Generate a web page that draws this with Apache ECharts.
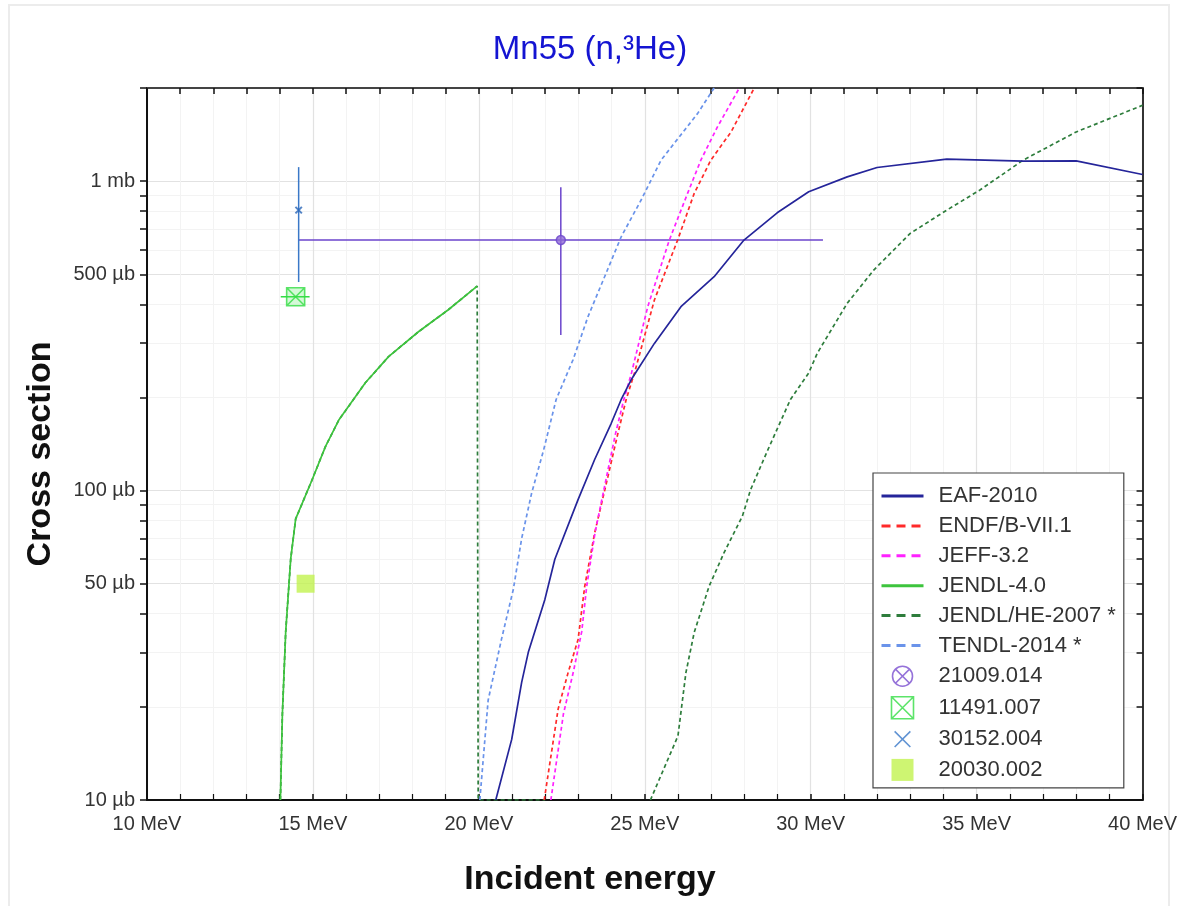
<!DOCTYPE html>
<html>
<head>
<meta charset="utf-8">
<title>Mn55 (n,3He)</title>
<script src="https://cdn.jsdelivr.net/npm/echarts@6/dist/echarts.min.js"></script>
<style>
    html, body { margin: 0; padding: 0; background: #fff; }
    #wrap { position: relative; width: 1180px; height: 906px; }
    #frame { position: absolute; left: 8px; top: 4px; width: 1162px; height: 910px; border: 2px solid #ececec; box-sizing: border-box; }
    #main { position: absolute; left: 0; top: 0; width: 1180px; height: 906px; }
</style>
</head>
<body>
<div id="wrap">
    <div id="frame"></div>
    <div id="main"></div>
</div>
<script>
// evaluated cross sections, [MeV, µb]
var eaf2010 = [[20.51,10],[20.99,15.7],[21.29,24],[21.49,30],[21.99,44.5],[22.29,60],[22.99,93.5],[23.49,126],[23.99,165],
    [24.29,197],[24.59,228],[25.29,299],[26.09,393],[27.09,491],[27.99,645],[28.99,790],[29.94,924],[31.1,1032],
    [32.0,1107],[34.1,1178],[36.4,1160],[38.0,1163],[40.0,1051]];
var endf71 = [[21.97,10],[22.39,19.7],[22.69,25.8],[22.99,33],[23.19,49],[23.49,73],[23.89,111],[24.19,153],[24.44,197],
    [24.69,240],[25.29,413],[25.99,645],[26.49,913],[26.99,1169],[27.6,1442],[28.3,2000]];
var jeff32 = [[22.17,10],[22.55,19],[22.85,26],[23.1,35],[23.25,49],[23.5,73],[23.85,111],[24.12,153],[24.37,197],
    [24.6,240],[25.09,393],[25.74,645],[26.29,913],[26.69,1169],[27.19,1497],[27.85,2000]];
var jendl40 = [[14.02,10],[14.08,19],[14.18,35],[14.33,60],[14.48,81],[14.97,108],[15.38,139],[15.78,169],[16.58,223],
    [17.28,271],[18.18,326],[19.08,384],[19.95,458]];
var jendlHe = [[14.02,10],[14.08,19],[14.18,35],[14.33,60],[14.48,81],[14.97,108],[15.38,139],[15.78,169],[16.58,223],
    [17.28,271],[18.18,326],[19.08,384],[19.95,458],[19.98,10],[22.0,10],[22.0,'-'],
    [25.17,10],[26.0,16.1],[26.24,25.8],[26.49,34.8],[26.94,49.1],[27.39,63],[27.94,82.6],[28.19,100.7],[28.69,134],
    [29.39,197],[29.94,240],[30.2,278],[31.1,403],[31.9,516],[33.0,678],[34.1,806],[35.1,936],[36.4,1169],
    [38.0,1442],[40.0,1758]];
var tendl2014 = [[20.03,10],[20.28,21],[20.68,33],[21.04,48],[21.29,70],[21.59,98],[21.95,135],[22.33,197],[22.84,265],
    [23.29,365],[23.79,491],[24.29,661],[24.89,869],[25.49,1169],[26.59,1653],[27.09,2000]];

// measurements: [MeV, µb] and error bars [xlo, xhi, ylo, yhi]
var exp21009 = [[22.47, 645]];
var exp21009Err = [[14.58, 30.37, 318, 956]];
var exp11491 = [[14.48, 423]];
var exp11491Err = [[14.03, 14.9, 423, 423]];
var exp30152 = [[14.57, 806]];
var exp30152Err = [[14.57, 14.57, 472, 1110]];
var exp20030 = [[14.78, 50]];

var yMajor = [10, 50, 100, 500, 1000];
var yMinor = [10, 20, 30, 40, 50, 60, 70, 80, 90, 100, 200, 300, 400, 500, 600, 700, 800, 900, 1000, 2000];

var CIRCLE_X = 'path://M-1 -1 M21 21 M0 10 A10 10 0 1 1 20 10 A10 10 0 1 1 0 10 Z M2.93 2.93 L17.07 17.07 M17.07 2.93 L2.93 17.07';
var BOX_X = 'path://M0 0 L20 0 L20 20 L0 20 Z M0 0 L20 20 M20 0 L0 20';
var CROSS = 'path://M-4 -4 M24 24 M0 0 L20 20 M20 0 L0 20';
var SQUARE = 'path://M0 0 L20 0 L20 20 L0 20 Z';

var FONT = 'Liberation Sans, Arial, sans-serif';

function lineSeries(name, data, color, dashed) {
    return {
        name: name, type: 'line', data: data, symbol: 'none', clip: true,
        lineStyle: { color: color, width: 1.7, type: dashed ? [4, 3] : 'solid' },
        itemStyle: { color: color },
        emphasis: { disabled: true }
    };
}

function errSeries(pts, errs, color) {
    var rows = pts.map(function (p, i) { return [p[0], p[1]].concat(errs[i]); });
    return {
        type: 'custom', clip: true, silent: true, z: 3,
        data: rows,
        renderItem: function (params, api) {
            var y = api.value(1);
            var l = api.coord([api.value(2), y]);
            var r = api.coord([api.value(3), y]);
            var b = api.coord([api.value(0), api.value(4)]);
            var t = api.coord([api.value(0), api.value(5)]);
            var st = { stroke: color, lineWidth: 1.5 };
            return {
                type: 'group',
                children: [
                    { type: 'line', shape: { x1: l[0], y1: l[1], x2: r[0], y2: r[1] }, style: st },
                    { type: 'line', shape: { x1: b[0], y1: b[1], x2: t[0], y2: t[1] }, style: st }
                ]
            };
        }
    };
}

function lineItem(name, dashed) {
    var it = { name: name, itemStyle: { opacity: 0 }, lineStyle: { width: 3 } };
    if (dashed) it.lineStyle.type = [9, 6];
    return it;
}

var chart = echarts.init(document.getElementById('main'));
var tickFont = { fontFamily: FONT, fontSize: 20, color: '#333' };
var nameFont = { fontSize: 34, fontWeight: 'bold', color: '#111', fontFamily: FONT };

var option = {
    animation: false,
    title: [{
        text: 'Mn55 (n,³He)', left: 'center', top: 28,
        textStyle: { color: '#1414d2', fontSize: 33, fontWeight: 'normal', fontFamily: FONT }
    }, {
        text: 'Incident energy', left: 'center', top: 858, textStyle: nameFont
    }],
    graphic: [{
        type: 'text', x: 41, y: 454, rotation: Math.PI / 2,
        style: { text: 'Cross section', align: 'center', verticalAlign: 'middle',
            font: 'bold 34px ' + FONT, fill: '#111' }
    }],
    grid: { left: 147, top: 88, width: 1000, height: 712, containLabel: false },
    xAxis: [{
        type: 'value', min: 10, max: 40, interval: 5, position: 'bottom',
        axisLine: { lineStyle: { color: '#111', width: 2 } },
        axisTick: { inside: true, length: 6, lineStyle: { color: '#111', width: 1.5 } },
        minorTick: { show: true, splitNumber: 5, length: 6, lineStyle: { color: '#111', width: 1.2 } },
        axisLabel: Object.assign({ margin: 14, formatter: '{value} MeV' }, tickFont),
        splitLine: { show: true, lineStyle: { color: '#e2e2e2', width: 1.2 } },
        minorSplitLine: { show: true, lineStyle: { color: '#f3f3f3', width: 1 } }
    }, {
        type: 'value', min: 10, max: 40, interval: 5, position: 'top',
        axisLine: { lineStyle: { color: '#444', width: 2 } },
        axisTick: { inside: true, length: 6, lineStyle: { color: '#111', width: 1.5 } },
        minorTick: { show: true, splitNumber: 5, length: 6, lineStyle: { color: '#111', width: 1.5 } },
        axisLabel: { show: false },
        splitLine: { show: false }
    }],
    yAxis: [{
        type: 'log', logBase: 10, min: 10, max: 2000, position: 'left',
        axisLine: { show: true, onZero: false, lineStyle: { color: '#111', width: 2 } },
        axisTick: { show: true, customValues: yMinor, length: 7, lineStyle: { color: '#111', width: 1.5 } },
        axisLabel: Object.assign({
            customValues: yMajor, margin: 12,
            formatter: function (v) { return v >= 1000 ? (v / 1000) + ' mb' : v + ' µb'; }
        }, tickFont),
        splitLine: { show: true, lineStyle: { color: '#f3f3f3', width: 1 } }
    }, {
        type: 'log', logBase: 10, min: 10, max: 2000, position: 'right',
        axisLine: { show: true, onZero: false, lineStyle: { color: '#333', width: 2 } },
        axisTick: { show: true, inside: true, customValues: yMinor, length: 6, lineStyle: { color: '#111', width: 1.5 } },
        axisLabel: { show: false },
        splitLine: { show: false }
    }, {
        type: 'log', logBase: 10, min: 10, max: 2000, position: 'left',
        axisLine: { show: false }, axisLabel: { show: false },
        axisTick: { show: false, customValues: yMajor },
        splitLine: { show: true, lineStyle: { color: '#e2e2e2', width: 1.2 } }
    }],
    legend: {
        orient: 'vertical', left: 873, top: 473,
        padding: [12, 8, 7, 7],
        itemWidth: 42, itemHeight: 22, itemGap: 7.9,
        backgroundColor: '#fff', borderColor: '#444', borderWidth: 1.2, borderRadius: 0,
        textStyle: { fontSize: 22, color: '#333', lineHeight: 22, fontFamily: FONT, padding: [0, 0, 0, 10] },
        data: [
            lineItem('EAF-2010', false),
            lineItem('ENDF/B-VII.1', true),
            lineItem('JEFF-3.2', true),
            lineItem('JENDL-4.0', false),
            lineItem('JENDL/HE-2007 *', true),
            lineItem('TENDL-2014 *', true),
            { name: '21009.014', icon: CIRCLE_X, itemStyle: { color: 'rgba(0,0,0,0)', borderColor: '#7a4fd0', borderWidth: 1.6 } },
            { name: '11491.007', icon: BOX_X, itemStyle: { color: 'rgba(0,0,0,0)', borderColor: '#33dd44', borderWidth: 1.6 } },
            { name: '30152.004', icon: CROSS, itemStyle: { color: 'rgba(0,0,0,0)', borderColor: '#3a78c8', borderWidth: 1.6 } },
            { name: '20030.002', icon: SQUARE, itemStyle: { color: '#c2f24f' } }
        ]
    },
    series: [
        lineSeries('JENDL/HE-2007 *', jendlHe, '#2e7d3c', true),
        lineSeries('JENDL-4.0', jendl40, '#3dc43d', false),
        lineSeries('TENDL-2014 *', tendl2014, '#6a93ea', true),
        lineSeries('ENDF/B-VII.1', endf71, '#ff2a2a', true),
        lineSeries('JEFF-3.2', jeff32, '#ff22ff', true),
        lineSeries('EAF-2010', eaf2010, '#25259a', false),
        errSeries(exp21009, exp21009Err, '#6b45cc'),
        errSeries(exp11491, exp11491Err, '#33dd44'),
        errSeries(exp30152, exp30152Err, '#3a78c8'),
        {
            name: '21009.014', type: 'scatter', data: exp21009, symbol: 'circle', symbolSize: 9, z: 4,
            itemStyle: { color: '#8e6ad6', borderColor: '#6b45cc', borderWidth: 1.5 }
        },
        {
            name: '11491.007', type: 'scatter', data: exp11491, symbol: BOX_X, symbolSize: 18, z: 4,
            itemStyle: { color: 'rgba(80,230,90,0.3)', borderColor: '#33dd44', borderWidth: 1.6 }
        },
        {
            name: '30152.004', type: 'scatter', data: exp30152, symbol: CROSS, symbolSize: 9, z: 4,
            itemStyle: { color: 'rgba(0,0,0,0)', borderColor: '#2a66b8', borderWidth: 2 }
        },
        {
            name: '20030.002', type: 'scatter', data: exp20030, symbol: 'rect', symbolSize: 18, z: 4,
            itemStyle: { color: '#c2f24f' }
        }
    ]
};
chart.setOption(option);
</script>
</body>
</html>
